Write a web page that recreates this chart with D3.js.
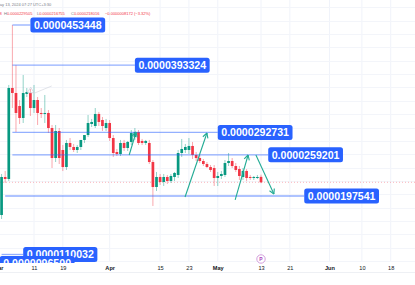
<!DOCTYPE html>
<html><head><meta charset="utf-8">
<script src="https://cdn.jsdelivr.net/npm/d3@7"></script>
<style>
body{margin:0;background:#fff;overflow:hidden}
svg{display:block;font-family:"Liberation Sans",Arial,sans-serif}
</style></head>
<body><svg id="c" width="415" height="285"></svg>
<script>
// ---------- DATA (prices in units of 1e-7) ----------
const firstDate = "2024-03-02";            // daily candles, one per day
const open  = [169.1,226.0,223.0,359.2,351.7,332.2,314.3,350.2,351.7,329.2,341.2,321.8,320.3,321.8,299.3,254.4,294.8,266.4,240.9,276.9,270.9,266.4,270.9,281.4,288.8,305.3,302.3,320.3,311.3,299.3,306.8,284.3,263.4,260.4,276.9,269.4,278.4,285.8,293.3,279.9,276.9,276.9,248.4,211.0,226.0,218.5,226.0,220.0,226.0,229.0,261.9,266.4,266.4,272.4,258.9,254.4,249.9,245.4,240.9,239.4,224.5,227.5,229.0,246.9,249.9,242.4,237.9,226.0,235.0,226.0,224.5,226.0,226.188];
const high  = [230.5,235.0,363.7,453.448,393.324,341.2,378.6,359.2,357.7,363.7,345.7,329.2,348.7,326.2,303.8,303.8,299.3,273.9,281.4,284.3,275.4,273.9,278.4,287.3,318.8,312.8,329.2,323.3,315.8,312.8,311.3,288.8,267.9,281.4,281.4,279.9,296.3,299.3,296.3,282.9,281.4,281.4,251.4,233.5,230.5,230.5,229.0,230.5,233.5,266.4,282.9,275.4,284.3,278.4,263.4,258.9,252.9,248.4,243.9,243.9,233.5,235.0,251.4,261.9,254.4,246.9,242.4,239.4,237.9,229.0,227.5,229.0,229.505];
const low   = [163.1,217.0,220.0,329.2,293.3,305.3,306.8,345.7,317.3,321.8,303.8,314.3,306.8,291.8,239.4,248.4,245.4,234.9,236.5,266.4,263.4,261.9,266.4,276.9,285.8,300.8,299.3,302.3,294.8,294.8,279.9,255.9,257.4,257.4,264.9,264.9,273.9,281.4,273.9,273.9,273.9,245.4,182.6,205.0,214.0,212.5,215.5,217.0,220.0,224.5,255.9,261.9,260.4,252.9,249.9,246.9,242.4,239.4,233.5,212.5,212.5,223.0,226.0,242.4,239.4,233.5,221.5,221.5,220.0,221.5,221.5,223.0,216.755];
const close = [226.0,223.0,359.2,351.7,321.8,314.3,351.7,353.2,329.2,341.2,321.8,320.3,321.8,299.3,254.4,294.8,254.4,240.9,276.9,270.9,266.4,270.9,281.4,288.8,306.8,308.3,320.3,308.3,302.3,306.8,284.3,261.9,260.4,276.9,269.4,278.4,291.8,293.3,276.9,276.9,279.9,248.4,211.0,226.0,218.5,226.0,220.0,227.5,232.0,261.9,267.9,270.9,272.4,258.9,254.4,249.9,245.4,240.9,236.5,224.5,227.5,230.5,246.9,249.9,242.4,236.5,227.5,235.0,224.5,224.5,226.0,226.0,218.016];

const levelValues = [453.448, 393.324, 292.731, 259.201, 197.541, 110.032];
const levelLabels = ["0.0000453448","0.0000393324","0.0000292731","0.0000259201","0.0000197541","0.0000110032"];
const levelFrom   = ["2024-03-05T00:00","2024-03-05T00:00","2024-03-05T00:00","2024-03-05T00:00","2024-03-03T00:00","2024-03-02T00:00"];
const levelLabelAt= ["2024-03-10T00:00","2024-04-08T00:00","2024-05-01T00:00","2024-05-15T00:00","2024-05-25T00:00","2024-03-08T00:00"];
const hiddenLabel = {value: 96.5, text: "0.0000096500", at: "2024-03-01T12:00"};

const tickDates  = ["2024-03-01","2024-03-11","2024-03-19","2024-04-01","2024-04-15","2024-04-23","2024-05-01","2024-05-13","2024-05-21","2024-06-01","2024-06-10","2024-06-18"];
const tickLabels = ["Mar","11","19","Apr","15","23","May","13","21","Jun","10","18"];
const monthLabels = ["Mar","Apr","May","Jun"];
const gridPrices = [100,120,140,160,180,200,220,240,260,280,300,320,340,360,380,400,420,440,460,480];

// trend arrows drawn on the chart: [date, price] pairs
const arrows = [
  [["2024-04-06T10:00",258.9],["2024-04-08T08:00",293.3]],
  [["2024-04-21T22:00",196.0],["2024-04-28T00:00",291.8]],
  [["2024-05-05T20:00",191.6],["2024-05-09T10:00",258.9]],
  [["2024-05-11T14:00",258.9],["2024-05-16T14:00",200.5]]
];
const triangleShape = [["2024-03-09T03:00",352.1],["2024-03-10T02:00",360.2],["2024-03-11T00:00",352.1]];
const grayLine = [["2024-03-11T00:00",351.2],["2024-03-15T22:00",362.2]];

const headerLine1 = "May 13, 2024 07:27 UTC+3:30";
const ohlcHeader = [["O","0.0000226188"],["H","0.0000229505"],["L","0.0000216755"],["C","0.0000218016"],["","−0.0000008172 (−3.32%)"]];

// ---------- CHART ----------
const W = 415, H = 285, plotBottom = 262;
const svg = d3.select("#c");
const pT = d3.utcParse("%Y-%m-%dT%H:%M"), pD = d3.utcParse("%Y-%m-%d");
const start = pD(firstDate);
const dates = open.map((_, i) => d3.utcDay.offset(start, i));

const x = d3.scaleUtc().domain([pD("2024-03-11"), pD("2024-05-13")]).range([34, 261]);
const y = d3.scaleLinear().domain([levelValues[4], levelValues[0]]).range([196, 25]);

svg.append("defs").append("clipPath").attr("id", "plot")
  .append("rect").attr("x", 0).attr("y", 0).attr("width", W).attr("height", plotBottom + 1);

svg.append("rect").attr("width", W).attr("height", H).attr("fill", "#fff");

// grid
const g = svg.append("g");
g.selectAll("line.v").data(tickDates).join("line")
  .attr("x1", d => x(pD(d))).attr("x2", d => x(pD(d)))
  .attr("y1", 0).attr("y2", plotBottom).attr("stroke", "#f0f3fa").attr("stroke-width", 1);
g.selectAll("line.h").data(gridPrices).join("line")
  .attr("x1", 0).attr("x2", W).attr("y1", d => Math.round(y(d)) + 0.5).attr("y2", d => Math.round(y(d)) + 0.5)
  .attr("stroke", "#f3f5fa").attr("stroke-width", 1);

// last price line
svg.append("line").attr("x1", 0).attr("x2", W)
  .attr("y1", y(close[close.length - 1])).attr("y2", y(close[close.length - 1]))
  .attr("stroke", "#f23645").attr("stroke-opacity", 0.45).attr("stroke-width", 0.8).attr("stroke-dasharray", "1,2");

// candles
const up = "#089981", dn = "#f23645", cw = 2.7;
const cg = svg.append("g");
dates.forEach((d, i) => {
  const c = close[i] >= open[i] ? up : dn;
  const cx = x(d);
  cg.append("line").attr("x1", cx).attr("x2", cx).attr("y1", y(high[i])).attr("y2", y(low[i]))
    .attr("stroke", c).attr("stroke-width", 0.8).attr("stroke-opacity", 0.55);
  const y0 = y(Math.max(open[i], close[i])), y1 = y(Math.min(open[i], close[i]));
  cg.append("rect").attr("x", cx - cw / 2).attr("width", cw)
    .attr("y", y0).attr("height", Math.max(1, y1 - y0)).attr("fill", c);
});

// horizontal level lines
const lv = svg.append("g");
levelValues.forEach((v, i) => {
  lv.append("line").attr("x1", x(pT(levelFrom[i]))).attr("x2", x(pT(levelLabelAt[i])))
    .attr("y1", y(v)).attr("y2", y(v)).attr("stroke", "#2962ff").attr("stroke-opacity", 0.5).attr("stroke-width", 1.3);
});

// drawings
const teal = "#22ab94";
const line = d3.line().x(p => x(pT(p[0]))).y(p => y(p[1]));
svg.append("path").attr("d", line(triangleShape.concat([triangleShape[0]])))
  .attr("fill", "none").attr("stroke", "#c9ccd6").attr("stroke-width", 0.7);
svg.append("path").attr("d", line(grayLine)).attr("fill", "none").attr("stroke", "#d6d8e0").attr("stroke-width", 0.7);
arrows.forEach(a => {
  const x1 = x(pT(a[0][0])), y1 = y(a[0][1]), x2 = x(pT(a[1][0])), y2 = y(a[1][1]);
  svg.append("line").attr("x1", x1).attr("y1", y1).attr("x2", x2).attr("y2", y2)
    .attr("stroke", teal).attr("stroke-width", 1.1);
  const ang = Math.atan2(y2 - y1, x2 - x1), L = 5.5;
  [-0.5, 0.5].forEach(da => {
    svg.append("line").attr("x1", x2).attr("y1", y2)
      .attr("x2", x2 - L * Math.cos(ang + da)).attr("y2", y2 - L * Math.sin(ang + da))
      .attr("stroke", teal).attr("stroke-width", 1.1);
  });
});

// price label boxes (clipped to the plot area)
const labels = svg.append("g").attr("clip-path", "url(#plot)");
function labelBox(xl, yc, txt) {
  const gg = labels.append("g");
  const t = gg.append("text").attr("x", xl + 3.5).attr("y", yc).attr("dy", "0.36em")
    .attr("fill", "#fff").attr("font-size", 10.6).attr("font-weight", "bold").text(txt);
  const w = t.node().getComputedTextLength() + 7;
  gg.insert("rect", "text").attr("x", xl).attr("y", yc - 7.5).attr("width", w).attr("height", 15)
    .attr("rx", 2.5).attr("fill", "#2962ff");
}
levelValues.forEach((v, i) => labelBox(x(pT(levelLabelAt[i])), y(v), levelLabels[i]));
labelBox(x(pT(hiddenLabel.at)), y(hiddenLabel.value), hiddenLabel.text);

// time axis
const ax = svg.append("g").attr("transform", `translate(0,${plotBottom})`)
  .call(d3.axisBottom(x).tickValues(tickDates.map(pD)).tickFormat((d, i) => tickLabels[i]).tickSize(0).tickPadding(4));
ax.select(".domain").remove();
ax.selectAll("text").attr("font-size", 5.6).attr("fill", "#131722")
  .attr("font-family", '"Liberation Sans",Arial,sans-serif')
  .attr("font-weight", (d, i) => monthLabels.includes(tickLabels[i]) ? "bold" : "normal");
svg.append("line").attr("x1", 0).attr("x2", W).attr("y1", 272.5).attr("y2", 272.5).attr("stroke", "#eef0f4");

// purple marker on the time axis
svg.append("circle").attr("cx", x(pD("2024-05-13"))).attr("cy", 259).attr("r", 4.2)
  .attr("fill", "#fff").attr("stroke", "#ce93d8").attr("stroke-width", 0.9);
svg.append("text").attr("x", x(pD("2024-05-13"))).attr("y", 259).attr("dy", "0.35em").attr("text-anchor", "middle")
  .attr("font-size", 5).attr("font-weight", "bold").attr("fill", "#ab47bc").text("P");

// header
svg.append("text").attr("x", -3.5).attr("y", 6.4).attr("font-size", 4).attr("fill", "#787b86").text(headerLine1);
const hx = [-27, 4, 37, 71, 105];
ohlcHeader.forEach((h, i) => {
  const t = svg.append("text").attr("x", hx[i]).attr("y", 15.4).attr("font-size", 4);
  t.append("tspan").attr("fill", "#787b86").text(h[0]);
  t.append("tspan").attr("fill", "#f23645").text(h[1]);
});
</script></body></html>
